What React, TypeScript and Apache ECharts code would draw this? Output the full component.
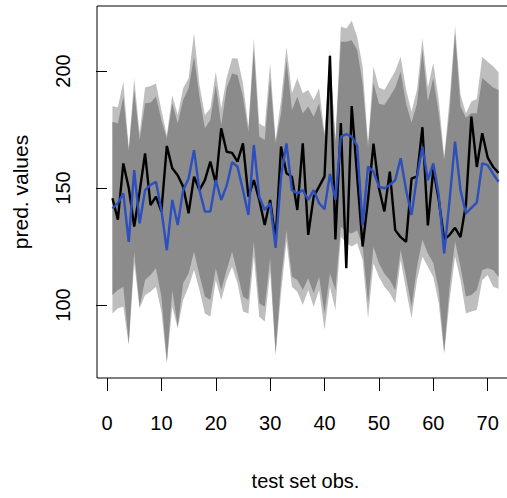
import React, { useEffect, useRef } from "react";
import * as echarts from "echarts";

const obs = [1,2,3,4,5,6,7,8,9,10,11,12,13,14,15,16,17,18,19,20,21,22,23,24,25,26,27,28,29,30,31,32,33,34,35,36,37,38,39,40,41,42,43,44,45,46,47,48,49,50,51,52,53,54,55,56,57,58,59,60,61,62,63,64,65,66,67,68,69,70,71,72];

const actual = [145.6,136.5,160.5,150.0,133.5,148.4,164.8,142.7,146.3,140.0,168.0,158.4,155.5,150.6,139.2,154.8,149.1,153.4,161.3,152.0,175.5,165.5,165.0,161.3,169.1,146.3,153.4,144.9,134.2,144.9,127.8,167.7,156.3,154.8,140.6,169.1,130.0,146.3,150.6,155.0,206.5,128.0,177.8,115.7,185.0,155.0,125.0,145.0,169.0,150.0,140.0,157.0,132.0,129.0,127.0,154.0,155.0,176.0,134.0,158.0,145.0,128.0,130.0,133.0,129.0,143.0,180.5,159.0,173.4,163.0,159.0,156.5];

const predicted = [141.3,143.5,147.7,127.0,157.7,134.9,149.1,151.3,152.7,140.6,123.5,144.9,134.2,149.1,154.1,166.2,149.1,139.9,139.9,153.4,144.9,151.0,161.0,159.1,149.1,138.5,168.4,146.3,140.6,143.5,124.4,154.8,169.1,149.1,147.7,149.1,144.9,149.1,143.5,141.0,156.0,145.0,172.0,173.0,172.0,168.0,134.0,159.1,157.0,150.6,149.9,151.3,153.4,162.7,149.1,138.5,154.8,167.7,153.4,160.5,147.0,122.1,144.9,169.8,149.1,139.2,141.5,143.8,160.5,159.8,156.0,152.7];

const outerUpper = [185.0,184.5,195.4,167.0,196.9,173.4,193.0,193.6,194.7,183.3,172.6,189.7,181.2,192.6,196.9,216.1,194.0,181.2,184.0,199.7,184.0,197.0,205.5,205.4,194.7,176.2,214.0,177.6,176.2,203.3,170.5,187.6,210.4,190.5,196.9,190.5,191.9,187.6,192.6,173.4,209.0,170.5,219.0,218.2,221.5,214.7,201.8,169.0,201.8,193.0,191.9,196.0,200.0,206.1,192.0,182.6,192.0,214.0,193.0,203.4,187.6,163.4,188.0,219.5,190.0,182.0,187.0,188.0,206.0,204.0,202.0,199.5];

const innerUpper = [178.3,177.6,189.0,166.0,191.9,170.5,186.2,186.5,189.0,179.1,171.2,186.2,177.6,187.6,192.6,206.1,189.0,175.5,179.1,194.0,176.9,192.6,199.0,198.3,189.0,174.1,209.0,172.0,170.5,196.9,169.1,181.9,204.7,183.3,189.0,181.9,184.8,180.5,186.2,172.0,206.8,169.5,212.5,212.5,213.2,209.0,194.7,167.5,194.9,186.0,185.5,189.0,193.0,199.7,186.0,178.0,186.0,209.0,187.0,197.0,182.0,162.0,183.0,216.0,185.0,180.0,182.0,182.0,197.0,195.0,193.0,191.9];

const innerLower = [104.3,106.4,107.8,83.5,122.8,99.3,110.7,112.8,115.7,103.6,75.8,106.4,90.7,109.3,113.5,122.8,112.8,103.6,102.1,115.7,106.4,115.0,122.8,113.5,103.6,102.1,127.1,100.7,99.3,120.0,79.3,110.7,132.0,112.1,110.7,106.4,111.4,105.0,112.1,96.4,113.5,106.4,133.5,131.3,130.6,132.0,125.0,100.7,124.9,117.8,113.5,110.7,106.4,123.5,112.1,99.3,116.4,127.8,122.1,118.0,106.4,80.1,107.8,127.1,116.4,103.6,104.3,106.4,115.0,115.7,115.0,112.0];

const outerLower = [96.4,98.6,99.3,82.8,117.8,98.6,104.3,105.7,107.8,97.2,75.1,99.3,90.0,102.1,107.8,115.0,106.4,96.4,95.0,110.7,102.1,110.7,116.4,109.3,97.2,96.4,120.7,95.0,92.9,114.3,78.6,105.0,127.1,107.8,105.7,100.0,106.4,99.3,106.4,89.3,107.8,97.9,129.2,126.4,125.0,126.4,119.2,94.3,117.8,112.1,107.8,105.0,100.7,119.2,106.4,94.3,110.7,120.7,116.4,112.0,100.7,79.0,102.1,120.7,110.7,96.4,97.2,97.9,110.7,112.8,107.8,107.0];

const xTicks = [0, 10, 20, 30, 40, 50, 60, 70];
const yTicks = [100, 150, 200];

const FONT = "'Liberation Sans', Arial, Helvetica, sans-serif";

export default function App() {
  const ref = useRef<HTMLDivElement>(null);
  useEffect(() => {
    if (!ref.current) return;
    const chart = echarts.init(ref.current, null, { renderer: "svg" });

    const band = (lower: number[], upper: number[], color: string, z: number) => ({
      type: "custom",
      silent: true,
      z,
      coordinateSystem: "cartesian2d",
      data: obs.map((x, i) => [x, lower[i], upper[i]]),
      encode: { x: 0, y: [1, 2] },
      renderItem: (params: any, api: any) => {
        if (params.dataIndex !== 0) return null;
        const pts: number[][] = [];
        for (let i = 0; i < obs.length; i++) pts.push(api.coord([obs[i], upper[i]]));
        for (let i = obs.length - 1; i >= 0; i--) pts.push(api.coord([obs[i], lower[i]]));
        return {
          type: "polygon",
          shape: { points: pts },
          style: { fill: color, stroke: null },
        };
      },
    });

    chart.setOption({
      animation: false,
      backgroundColor: "#ffffff",
      grid: {
        show: true,
        left: 97,
        top: 6,
        bottom: 120,
        right: 6,
        borderColor: "#000",
        borderWidth: 1,
        backgroundColor: "transparent",
        containLabel: false,
      },
      xAxis: {
        type: "value",
        min: -1.84,
        max: 74.84,
        splitLine: { show: false },
        axisLine: { show: false },
        axisTick: {
          show: true,
          length: 13,
          lineStyle: { color: "#000", width: 1 },
          customValues: xTicks,
        },
        axisLabel: {
          customValues: xTicks,
          margin: 35,
          fontSize: 20,
          color: "#000",
          fontFamily: FONT,
        },
        name: "test set obs.",
        nameLocation: "middle",
        nameGap: 93,
        nameTextStyle: { fontSize: 20, color: "#000", fontFamily: FONT },
      },
      yAxis: {
        type: "value",
        min: 68.8,
        max: 227.8,
        splitLine: { show: false },
        axisLine: { show: false },
        axisTick: {
          show: true,
          length: 11,
          lineStyle: { color: "#000", width: 1 },
          customValues: yTicks,
        },
        axisLabel: {
          customValues: yTicks,
          rotate: 90,
          margin: 24,
          fontSize: 20,
          color: "#000",
          fontFamily: FONT,
        },
        name: "pred. values",
        nameLocation: "middle",
        nameGap: 66,
        nameTextStyle: { fontSize: 21, color: "#000", fontFamily: FONT },
      },
      series: [
        band(outerLower, outerUpper, "#bebebe", 1),
        band(innerLower, innerUpper, "#8b8b8b", 2),
        {
          type: "line",
          z: 3,
          silent: true,
          symbol: "none",
          data: obs.map((x, i) => [x, actual[i]]),
          lineStyle: { color: "#000000", width: 2.4 },
        },
        {
          type: "line",
          z: 4,
          silent: true,
          symbol: "none",
          data: obs.map((x, i) => [x, predicted[i]]),
          lineStyle: { color: "#2c4fbd", width: 2.4 },
        },
      ],
    });

    return () => chart.dispose();
  }, []);

  return (
    <div
      style={{
        position: "absolute",
        left: 0,
        top: 0,
        width: 507,
        height: 498,
        overflow: "hidden",
        background: "#fff",
      }}
    >
      <div ref={ref} style={{ width: 520, height: 498 }} />
    </div>
  );
}
